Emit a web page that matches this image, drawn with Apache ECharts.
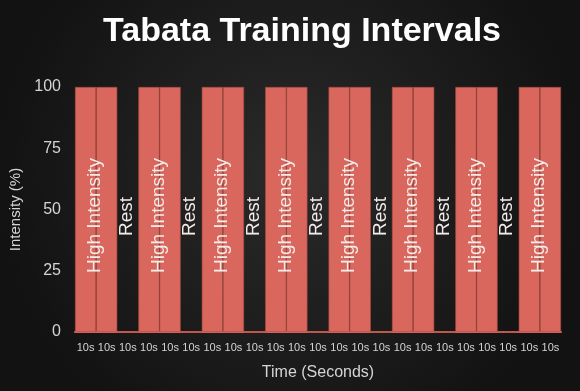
<!DOCTYPE html>
<html>
<head>
<meta charset="utf-8">
<script src="https://cdn.jsdelivr.net/npm/echarts@6/dist/echarts.min.js"></script>
<style>
html,body{margin:0;padding:0;background:#1c1c1c;}
#chart{width:580px;height:391px;}
</style>
</head>
<body>
<div id="chart"></div>
<script>
// ---- data ----
var categories = ['10s','10s','10s','10s','10s','10s','10s','10s','10s','10s','10s','10s',
                  '10s','10s','10s','10s','10s','10s','10s','10s','10s','10s','10s'];
var intensity = [100,100,0, 100,100,0, 100,100,0, 100,100,0, 100,100,0, 100,100,0, 100,100,0, 100,100];
var phaseLabels = ['High Intensity','','Rest', 'High Intensity','','Rest', 'High Intensity','','Rest',
                   'High Intensity','','Rest', 'High Intensity','','Rest', 'High Intensity','','Rest',
                   'High Intensity','','Rest', 'High Intensity',''];
var yTicks = [0,25,50,75,100];
var titleText = 'Tabata Training Intervals';
var xName = 'Time (Seconds)';
var yName = 'Intensity (%)';

var chart = echarts.init(document.getElementById('chart'), null, {renderer:'canvas'});
var gridLeft = 75, gridRight = 19;
var catW = (580 - gridLeft - gridRight) / categories.length;
var font = '"Liberation Sans", Arial, Helvetica, sans-serif';
var txtColor = '#d4d4d4';

// with rotate:90 the offset is applied in the rotated frame: [-down, right]
var barData = intensity.map(function(v, i){
  var lab = phaseLabels[i];
  var item = {value: v};
  if (lab === 'High Intensity') {
    item.label = {show:true, formatter: lab, position:'inside', rotate:90,
      offset:[-6, catW/2 - 1], color:'#f4ece9', fontSize:19, fontFamily:font};
  }
  return item;
});
var restData = intensity.map(function(v, i){
  if (phaseLabels[i] === 'Rest') {
    return {value: 100, label:{show:true, formatter:'Rest', position:'inside', rotate:90,
      offset:[-7, -1], color:'#f4ece9', fontSize:19, fontFamily:font}};
  }
  return {value: '-'};
});

chart.setOption({
  backgroundColor: {
    type:'radial', x:0.5, y:0.45, r:0.75,
    colorStops:[{offset:0, color:'#2a2a2b'},{offset:1, color:'#121212'}]
  },
  animation:false,
  title:{
    text: titleText, left: 297, top: 10, textAlign:'center',
    textStyle:{color:'#ffffff', fontSize:34, fontWeight:'bold', fontFamily:font}
  },
  grid:{left:gridLeft, right:gridRight, top:87, bottom:59},
  xAxis:{
    type:'category', data: categories,
    name: xName, nameLocation:'middle', nameGap:33,
    nameTextStyle:{color:txtColor, fontSize:16, fontFamily:font},
    axisLine:{show:true, lineStyle:{color:'#d9665c', width:2}},
    axisTick:{show:false},
    axisLabel:{color:txtColor, fontSize:11, fontFamily:font, margin:10, interval:0}
  },
  yAxis:{
    type:'value', min: yTicks[0], max: yTicks[yTicks.length-1], interval:25,
    name: yName, nameLocation:'middle', nameGap:50,
    nameTextStyle:{color:txtColor, fontSize:15, fontFamily:font},
    axisLine:{show:false}, axisTick:{show:false}, splitLine:{show:false},
    axisLabel:{color:txtColor, fontSize:16, fontFamily:font, margin:14}
  },
  series:[
    {
      type:'bar', data: barData, barCategoryGap:'0%', barGap:'-100%',
      itemStyle:{color:'#d9675d', borderColor:'#a9493f', borderWidth:0.6},
      z:2
    },
    {
      type:'bar', data: restData, barCategoryGap:'0%', barGap:'-100%',
      itemStyle:{color:'rgba(0,0,0,0)'},
      z:3
    }
  ]
});
</script>
</body>
</html>
